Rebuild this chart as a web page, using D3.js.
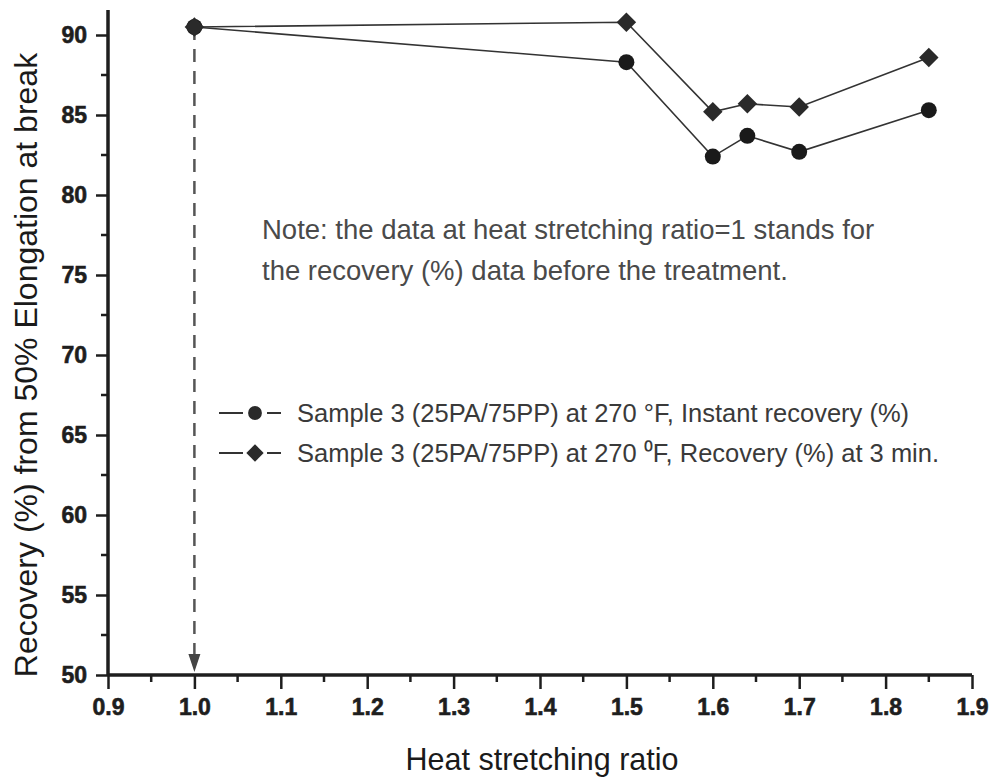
<!DOCTYPE html>
<html>
<head>
<meta charset="utf-8">
<script src="https://cdn.jsdelivr.net/npm/d3@7/dist/d3.min.js"></script>
<style>
  html, body { margin: 0; padding: 0; background: #ffffff; }
  svg { display: block; font-family: Arial, "Liberation Sans", sans-serif; }
</style>
</head>
<body>
<svg id="chart" width="996" height="780"></svg>
<script>
// ---- data ----
const ratios = [1.0, 1.5, 1.6, 1.64, 1.7, 1.85];
const instantRecovery = [90.5, 88.3, 82.4, 83.7, 82.7, 85.3];
const recovery3min = [90.5, 90.8, 85.2, 85.7, 85.5, 88.6];
const xTicks = [0.9, 1.0, 1.1, 1.2, 1.3, 1.4, 1.5, 1.6, 1.7, 1.8, 1.9];
const yTicks = [50, 55, 60, 65, 70, 75, 80, 85, 90];
const seriesNames = [
  "Sample 3 (25PA/75PP) at 270 \u00B0F, Instant recovery (%)",
  "Sample 3 (25PA/75PP) at 270 \u2070F, Recovery (%) at 3 min."
];
const noteLines = [
  "Note: the data at heat stretching ratio=1 stands for",
  "the recovery (%) data before the treatment."
];
const refX = 1.0;
const refYFrom = 90.5;
const refYTo = 50;

// ---- layout ----
const svg = d3.select("#chart");
const x = d3.scaleLinear().domain([0.9, 1.9]).range([108, 972]);
const y = d3.scaleLinear().domain([50, 90]).range([675, 35]);
const ink = "#1e1e1e";
const FONT = "Arial, 'Liberation Sans', sans-serif";

// minor ticks
const xMinor = d3.range(0.95, 1.9, 0.1);
const yMinor = d3.range(52.5, 90, 5);

// x axis
const xAxis = svg.append("g").attr("transform", `translate(0,${y(50)})`)
  .call(d3.axisBottom(x).tickValues(xTicks).tickFormat(d3.format(".1f")).tickSize(14).tickPadding(10))
  .call(g => g.select(".domain").remove());
xAxis.attr("font-size", null).attr("font-family", null);
xAxis.selectAll("line").attr("stroke", ink).attr("stroke-width", 2.5);
xAxis.selectAll("text").attr("fill", ink).attr("stroke", ink).attr("stroke-width", 0.6)
  .style("font-size", "23px").style("font-weight", "bold").style("font-family", FONT);
xAxis.selectAll(".minor").data(xMinor).enter().append("line").attr("class", "minor")
  .attr("x1", d => x(d)).attr("x2", d => x(d)).attr("y1", 0).attr("y2", 7)
  .attr("stroke", ink).attr("stroke-width", 2.5);

// y axis
const yAxis = svg.append("g").attr("transform", `translate(${x(0.9)},0)`)
  .call(d3.axisLeft(y).tickValues(yTicks).tickSize(12).tickPadding(9))
  .call(g => g.select(".domain").remove());
yAxis.attr("font-size", null).attr("font-family", null);
yAxis.selectAll("line").attr("stroke", ink).attr("stroke-width", 2.5);
yAxis.selectAll("text").attr("fill", ink).attr("stroke", ink).attr("stroke-width", 0.6)
  .style("font-size", "23px").style("font-weight", "bold").style("font-family", FONT);
yAxis.selectAll(".minor").data(yMinor).enter().append("line").attr("class", "minor")
  .attr("y1", d => y(d)).attr("y2", d => y(d)).attr("x1", 0).attr("x2", -7)
  .attr("stroke", ink).attr("stroke-width", 2.5);

// axis lines
svg.append("line").attr("x1", x(0.9)).attr("x2", x(1.9)).attr("y1", y(50)).attr("y2", y(50))
  .attr("stroke", ink).attr("stroke-width", 3.5);
svg.append("line").attr("x1", x(0.9)).attr("x2", x(0.9)).attr("y1", y(50)).attr("y2", y(91.56))
  .attr("stroke", ink).attr("stroke-width", 3.5);

// axis titles
svg.append("text").attr("x", (x(0.9) + x(1.9)) / 2 + 2).attr("y", 770)
  .attr("text-anchor", "middle").style("font-size", "30.5px").attr("fill", "#1a1a1a")
  .text("Heat stretching ratio");
svg.append("text").attr("transform", `translate(37,${365}) rotate(-90)`)
  .attr("text-anchor", "middle").style("font-size", "32px").attr("fill", "#1a1a1a")
  .text("Recovery (%) from 50% Elongation at break");

// reference dashed arrow
svg.append("line").attr("x1", x(refX)).attr("x2", x(refX))
  .attr("y1", y(refYFrom)).attr("y2", y(refYTo) - 18)
  .attr("stroke", "#555").attr("stroke-width", 2.5).attr("stroke-dasharray", "13,9");
svg.append("path")
  .attr("d", `M${x(refX) - 6},${y(refYTo) - 21} L${x(refX) + 6},${y(refYTo) - 21} L${x(refX)},${y(refYTo) - 3} Z`)
  .attr("fill", "#444");

// lines
const line = d3.line().x((d, i) => x(ratios[i])).y(d => y(d));
svg.append("path").datum(instantRecovery).attr("d", line)
  .attr("fill", "none").attr("stroke", "#333").attr("stroke-width", 1.6);
svg.append("path").datum(recovery3min).attr("d", line)
  .attr("fill", "none").attr("stroke", "#333").attr("stroke-width", 1.6);

// markers
const circleSym = d3.symbol().type(d3.symbolCircle).size(200);
const diamondSym = d3.symbol().type(d3.symbolSquare).size(190);
svg.selectAll(".c").data(instantRecovery).enter().append("path")
  .attr("d", circleSym)
  .attr("transform", (d, i) => `translate(${x(ratios[i])},${y(d)})`)
  .attr("fill", "#1a1a1a");
svg.selectAll(".d").data(recovery3min).enter().append("path")
  .attr("d", diamondSym)
  .attr("transform", (d, i) => `translate(${x(ratios[i])},${y(d)}) rotate(45)`)
  .attr("fill", "#2a2a2a");

// note
svg.append("g").selectAll("text").data(noteLines).enter().append("text")
  .attr("x", 262).attr("y", (d, i) => 239 + i * 41)
  .style("font-size", "27.5px").attr("fill", "#4a4a4a")
  .text(d => d);

// legend
const legend = svg.append("g");
seriesNames.forEach((name, i) => {
  const ly = 413 + i * 40;
  legend.append("line").attr("x1", 219).attr("x2", 243).attr("y1", ly).attr("y2", ly)
    .attr("stroke", "#333").attr("stroke-width", 2);
  legend.append("line").attr("x1", 267).attr("x2", 281).attr("y1", ly).attr("y2", ly)
    .attr("stroke", "#333").attr("stroke-width", 2);
  legend.append("path")
    .attr("d", i === 0 ? d3.symbol().type(d3.symbolCircle).size(150)() : d3.symbol().type(d3.symbolSquare).size(150)())
    .attr("transform", `translate(255,${ly})` + (i === 1 ? " rotate(45)" : ""))
    .attr("fill", "#2a2a2a");
  legend.append("text").attr("x", 297).attr("y", ly + 9)
    .style("font-size", "25.5px").attr("fill", "#3a3a3a")
    .text(name);
});
</script>
</body>
</html>
